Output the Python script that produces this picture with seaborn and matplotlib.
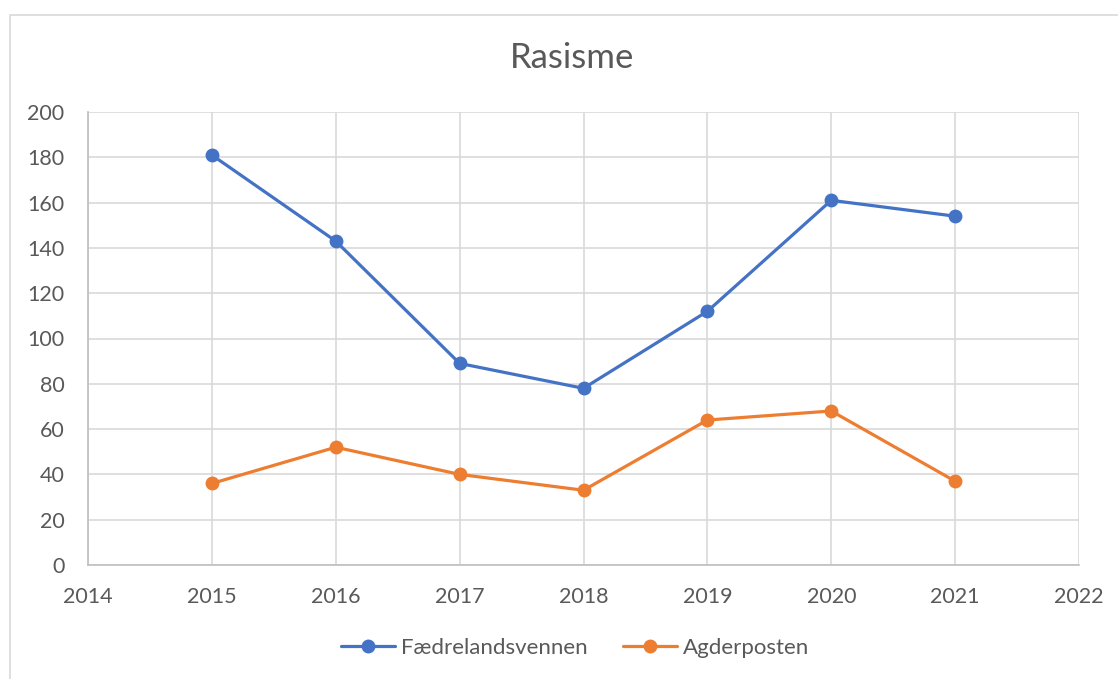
import matplotlib
matplotlib.use("Agg")
import matplotlib.pyplot as plt
from matplotlib.patches import Rectangle
import seaborn as sns
import pandas as pd

years = [2015, 2016, 2017, 2018, 2019, 2020, 2021]
faedrelandsvennen = [181, 143, 89, 78, 112, 161, 154]
agderposten = [36, 52, 40, 33, 64, 68, 37]
series_names = ["Fædrelandsvennen", "Agderposten"]
title = "Rasisme"
x_ticks = [2014, 2015, 2016, 2017, 2018, 2019, 2020, 2021, 2022]
y_ticks = [0, 20, 40, 60, 80, 100, 120, 140, 160, 180, 200]

df = pd.DataFrame({
    "year": years * 2,
    "value": faedrelandsvennen + agderposten,
    "series": [series_names[0]] * len(years) + [series_names[1]] * len(years),
})

sns.set_style("white")
plt.rcParams["font.family"] = ["Lato", "DejaVu Sans"]

fig = plt.figure(figsize=(11.18, 6.79), dpi=100)
W, H = 1118, 679
ax = fig.add_axes([88 / W, 1 - 565 / H, (1079 - 88) / W, (565 - 112) / H])

# chart frame
fig.patches.append(Rectangle((10 / W, -0.1), 1.2, 1 - 15 / H + 0.1, transform=fig.transFigure,
                             fill=False, edgecolor="#D9D9D9", linewidth=1.2, zorder=0))

palette = {series_names[0]: "#4472C4", series_names[1]: "#ED7D31"}
sns.lineplot(data=df, x="year", y="value", hue="series", palette=palette, marker="o",
             markersize=10, markeredgewidth=0, linewidth=2.3, ax=ax, legend=True)

ax.set_xlim(2014, 2022)
ax.set_ylim(0, 200)
ax.set_xticks(x_ticks)
ax.set_yticks(y_ticks)
ax.set_xticklabels([str(t) for t in x_ticks])
ax.set_xlabel("")
ax.set_ylabel("")
ax.grid(True, color="#D9D9D9", linewidth=1.2)
ax.set_axisbelow(True)
for s in ["top", "right"]:
    ax.spines[s].set_visible(False)
for s in ["left", "bottom"]:
    ax.spines[s].set_color("#BFBFBF")
    ax.spines[s].set_linewidth(1.2)
ax.tick_params(axis="both", length=0, labelsize=15.5, colors="#595959")
ax.tick_params(axis="x", pad=16)
ax.tick_params(axis="y", pad=17)

fig.text(572 / W, 1 - 68 / H, title, ha="center", va="baseline", fontsize=25, color="#595959")

handles, labels = ax.get_legend_handles_labels()
ax.legend(handles, labels, loc="center", bbox_to_anchor=(575 / W, 1 - 648 / H),
          bbox_transform=fig.transFigure, ncol=2, frameon=False, fontsize=16,
          labelcolor="#595959", handlelength=2.45, columnspacing=1.6, handletextpad=0.25)

fig.savefig("out.png", dpi=100, facecolor="white")
